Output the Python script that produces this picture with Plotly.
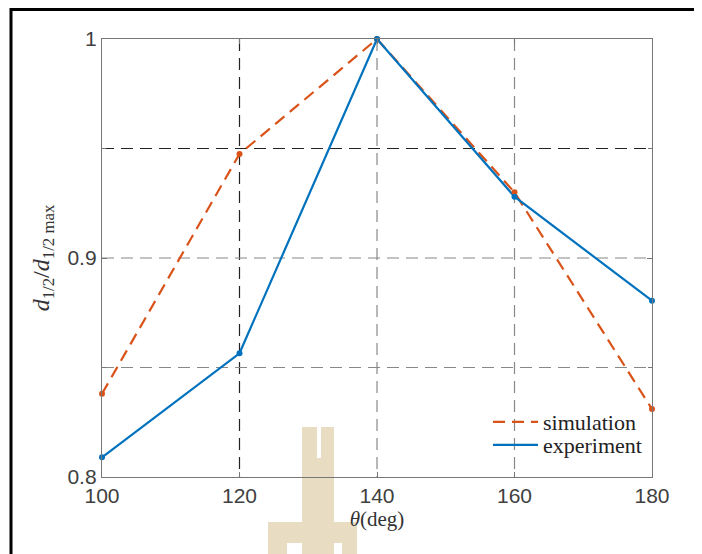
import plotly.graph_objects as go

theta = [100, 120, 140, 160, 180]
simulation = [0.838, 0.9475, 1.0, 0.930, 0.831]
experiment = [0.809, 0.8565, 1.0, 0.928, 0.8805]

x_ticks = [100, 120, 140, 160, 180]
y_ticks = [0.8, 0.9, 1.0]
y_ticklabels = ["0.8", "0.9", "1"]
x_grid = [120, 140, 160]
y_grid = [0.85, 0.9, 0.95]
x_grid_colors = ["#222", "#888", "#888"]
y_grid_colors = ["#888", "#888", "#222"]

ORANGE = "#D95319"
BLUE = "#0072BD"
DASH = "12px,7px"

fig = go.Figure()
# lines (shown in legends)
fig.add_trace(go.Scatter(
    x=theta, y=simulation, name="simulation", mode="lines",
    line=dict(color=ORANGE, width=2.2, dash=DASH), legend="legend"))
fig.add_trace(go.Scatter(
    x=theta, y=experiment, name="experiment", mode="lines",
    line=dict(color=BLUE, width=2.2), legend="legend2"))
# point markers
fig.add_trace(go.Scatter(
    x=theta, y=simulation, mode="markers", showlegend=False,
    marker=dict(size=6, color=ORANGE), cliponaxis=False))
fig.add_trace(go.Scatter(
    x=theta, y=experiment, mode="markers", showlegend=False,
    marker=dict(size=6, color=BLUE), cliponaxis=False))

# page pixel -> plot-area paper fraction (plot area: x 102..652, y 39..477)
def px(x):
    return (x - 102) / 550

def py(y):
    return (477 - y) / 438

# watermark (light beige logo)
beige = "#E8DCC3"
for (x0, x1, y0, y1) in [(302, 317, 427, 560), (321, 334, 427, 560),
                         (302, 334, 458, 560), (268, 287, 522, 560),
                         (287, 302, 522, 543), (342, 357, 522, 560),
                         (334, 342, 522, 543)]:
    fig.add_shape(type="rect", xref="paper", yref="paper",
                  x0=px(x0), x1=px(x1), y0=py(y1), y1=py(y0),
                  fillcolor=beige, line=dict(width=0), layer="below")

# dashed grid lines
for gx, c in zip(x_grid, x_grid_colors):
    fig.add_shape(type="line", xref="x", yref="paper", x0=gx, x1=gx, y0=1, y1=0,
                  line=dict(color=c, width=1.2, dash=DASH), layer="below")
for gy, c in zip(y_grid, y_grid_colors):
    fig.add_shape(type="line", xref="paper", yref="y", x0=0, x1=1, y0=gy, y1=gy,
                  line=dict(color=c, width=1.2, dash=DASH), layer="below")

# outer frame (top and left border of the image)
fig.add_shape(type="rect", xref="paper", yref="paper",
              x0=px(11), x1=px(760), y0=py(600), y1=py(9.5),
              line=dict(color="black", width=3), fillcolor="rgba(0,0,0,0)")

axis_common = dict(
    showline=True, linecolor="#777", linewidth=1.3, mirror="ticks",
    ticks="inside", ticklen=5, tickcolor="#777",
    tickfont=dict(family="Liberation Sans", size=21, color="#404040"),
    showgrid=False, zeroline=False,
)

fig.update_xaxes(range=[100, 180], tickvals=x_ticks, **axis_common,
                 title=dict(text="<i>θ</i>(deg)", standoff=4,
                            font=dict(family="Liberation Serif", size=21, color="#333")))
fig.update_yaxes(range=[0.8, 1.0], tickvals=y_ticks, ticktext=y_ticklabels, **axis_common,
                 minor=dict(tickvals=y_grid, ticks="inside", ticklen=4, tickcolor="#777",
                            showgrid=False),
                 title=dict(text="<i>d</i><sub>1/2</sub>/<i>d</i><sub>1/2 max</sub>", standoff=11,
                            font=dict(family="Liberation Serif", size=24, color="#333")))

legend_style = dict(xanchor="left", yanchor="middle", bgcolor="rgba(0,0,0,0)",
                    borderwidth=0, itemwidth=45,
                    font=dict(family="Liberation Serif", size=22, color="#222"))

fig.update_layout(
    width=694, height=546,
    margin=dict(l=94, r=50, t=31, b=77),
    plot_bgcolor="white", paper_bgcolor="white",
    legend=dict(x=px(488), y=py(422), **legend_style),
    legend2=dict(x=px(488), y=py(445), **legend_style),
)

fig.write_html("out.html")
